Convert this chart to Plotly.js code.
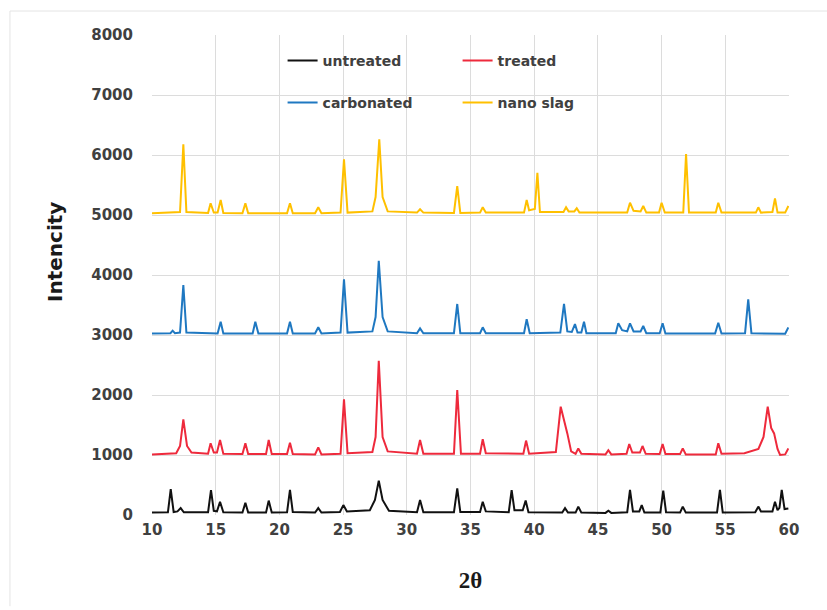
<!DOCTYPE html>
<html>
<head>
<meta charset="utf-8">
<script src="https://cdn.plot.ly/plotly-3.0.1.min.js"></script>
<style>html,body{margin:0;padding:0;background:#fff;}#chart{width:827px;height:610px;}</style>
</head>
<body>
<div id="chart"></div>
<script>
// Series names
const seriesNames = ["untreated", "treated", "carbonated", "nano slag"];
const seriesColors = ["#111111", "#EE2A3C", "#1F78C1", "#FFC000"];

// [2θ, intensity] points
const untreated = [[10,40],[11.25,45],[11.47,430],[11.7,50],[12.0,60],[12.25,115],[12.5,45],[14.4,45],[14.63,415],[14.85,70],[15.1,60],[15.34,220],[15.6,45],[17.1,40],[17.33,205],[17.55,40],[18.95,40],[19.16,240],[19.4,40],[20.6,45],[20.83,420],[21.05,50],[22.8,40],[23.05,115],[23.3,40],[24.75,50],[25.02,165],[25.3,60],[27.1,80],[27.5,250],[27.8,570],[28.1,250],[28.6,70],[30.8,45],[31.04,250],[31.3,45],[33.7,45],[33.96,445],[34.2,50],[35.75,50],[35.96,220],[36.2,60],[38.0,45],[38.23,415],[38.45,80],[39.1,80],[39.33,240],[39.55,45],[42.2,40],[42.42,115],[42.65,40],[43.25,40],[43.46,140],[43.7,40],[45.6,35],[45.82,70],[46.05,35],[47.3,45],[47.52,420],[47.75,60],[48.25,60],[48.44,165],[48.65,40],[49.9,40],[50.13,405],[50.35,45],[51.45,40],[51.66,140],[51.9,40],[54.35,40],[54.58,420],[54.8,40],[57.35,45],[57.59,140],[57.8,60],[58.7,60],[58.9,220],[59.1,80],[59.25,120],[59.43,420],[59.65,100],[59.95,110]];

const treated = [[10,1010],[11.9,1030],[12.2,1150],[12.46,1595],[12.75,1150],[13.1,1040],[14.4,1020],[14.6,1195],[14.85,1040],[15.1,1040],[15.34,1250],[15.6,1020],[17.1,1015],[17.33,1195],[17.55,1015],[18.95,1015],[19.16,1250],[19.4,1015],[20.6,1015],[20.83,1205],[21.05,1015],[22.8,1010],[23.05,1128],[23.3,1010],[24.8,1020],[25.07,1928],[25.35,1030],[27.3,1050],[27.55,1300],[27.8,2572],[28.1,1300],[28.5,1060],[30.8,1020],[31.04,1250],[31.3,1020],[33.7,1020],[33.96,2083],[34.25,1020],[35.75,1020],[35.96,1262],[36.2,1030],[39.15,1020],[39.36,1240],[39.6,1020],[41.7,1050],[42.08,1805],[42.6,1360],[42.9,1060],[43.25,1020],[43.46,1110],[43.7,1020],[45.6,1010],[45.82,1080],[46.05,1010],[47.25,1020],[47.46,1183],[47.7,1040],[48.3,1040],[48.5,1150],[48.75,1020],[49.85,1015],[50.08,1183],[50.3,1015],[51.45,1015],[51.66,1110],[51.9,1010],[54.25,1010],[54.45,1195],[54.7,1020],[56.5,1030],[57.6,1100],[58.0,1300],[58.33,1805],[58.6,1450],[58.83,1360],[59.1,1100],[59.3,1000],[59.7,1010],[59.95,1110]];

const carbonated = [[10,3025],[11.45,3030],[11.62,3072],[11.8,3030],[12.2,3040],[12.46,3833],[12.7,3040],[15.15,3025],[15.39,3222],[15.6,3025],[17.9,3025],[18.11,3222],[18.35,3025],[20.6,3025],[20.83,3222],[21.05,3025],[22.8,3025],[23.05,3128],[23.3,3025],[24.8,3040],[25.07,3928],[25.35,3040],[27.3,3060],[27.55,3300],[27.8,4238],[28.1,3300],[28.5,3060],[30.8,3030],[31.04,3110],[31.3,3030],[33.7,3030],[33.96,3517],[34.2,3030],[35.75,3030],[35.96,3128],[36.2,3030],[39.2,3030],[39.41,3262],[39.65,3030],[42.05,3040],[42.34,3517],[42.6,3060],[42.95,3050],[43.2,3183],[43.4,3040],[43.7,3040],[43.91,3222],[44.1,3030],[46.4,3030],[46.6,3195],[46.9,3080],[47.3,3060],[47.52,3195],[47.8,3060],[48.35,3060],[48.56,3150],[48.8,3030],[49.85,3030],[50.08,3195],[50.3,3025],[54.2,3025],[54.45,3205],[54.7,3025],[56.55,3030],[56.8,3595],[57.05,3030],[59.7,3020],[59.95,3128]];

const nanoSlag = [[10,5030],[12.2,5050],[12.46,6180],[12.7,5050],[14.4,5035],[14.6,5195],[14.85,5040],[15.15,5040],[15.39,5250],[15.6,5035],[17.1,5030],[17.33,5195],[17.55,5030],[20.6,5030],[20.83,5195],[21.05,5030],[22.8,5030],[23.05,5128],[23.3,5030],[24.8,5040],[25.07,5928],[25.35,5040],[27.3,5060],[27.55,5300],[27.84,6262],[28.1,5300],[28.5,5060],[30.8,5040],[31.04,5095],[31.3,5040],[33.7,5035],[33.96,5483],[34.2,5035],[35.75,5040],[35.96,5128],[36.2,5040],[39.2,5040],[39.41,5250],[39.6,5080],[40.05,5100],[40.25,5705],[40.45,5050],[42.3,5050],[42.5,5128],[42.7,5060],[43.15,5060],[43.34,5112],[43.55,5040],[47.3,5040],[47.52,5205],[47.8,5070],[48.35,5060],[48.56,5150],[48.8,5040],[49.8,5040],[50.0,5205],[50.25,5040],[51.7,5040],[51.92,6017],[52.15,5040],[54.25,5040],[54.45,5205],[54.7,5040],[57.4,5040],[57.59,5128],[57.8,5040],[58.7,5050],[58.9,5278],[59.1,5040],[59.7,5040],[59.95,5150]];

const allSeries = [untreated, treated, carbonated, nanoSlag];
const legendIds = ["legend", "legend", "legend2", "legend2"];

const traces = allSeries.map((pts, i) => ({
  type: "scatter",
  mode: "lines",
  name: seriesNames[i],
  x: pts.map(p => p[0]),
  y: pts.map(p => p[1]),
  line: {color: seriesColors[i], width: 2},
  legend: legendIds[i],
  hoverinfo: "x+y+name"
}));

const tickFont = {family: "DejaVu Sans", size: 15, color: "#404040", weight: "bold"};
const legendFont = {family: "DejaVu Sans", size: 14, color: "#404040", weight: "bold"};

const layout = {
  width: 827,
  height: 610,
  margin: {l: 152, r: 38, t: 35, b: 95},
  paper_bgcolor: "#ffffff",
  plot_bgcolor: "#ffffff",
  showlegend: true,
  xaxis: {
    range: [10, 60],
    tick0: 10,
    dtick: 5,
    showgrid: true,
    gridcolor: "#dcdcdc",
    gridwidth: 1,
    zeroline: false,
    showline: false,
    ticks: "",
    tickfont: tickFont,
    ticklabelstandoff: 4,
    title: {text: "2θ", font: {family: "Liberation Serif", size: 23, color: "#1a1a1a", weight: "bold"}, standoff: 33}
  },
  yaxis: {
    range: [0, 8000],
    tick0: 0,
    dtick: 1000,
    showgrid: true,
    gridcolor: "#dcdcdc",
    gridwidth: 1,
    zeroline: false,
    showline: false,
    ticks: "",
    tickfont: tickFont,
    ticklabelstandoff: 18
  },
  annotations: [
    {text: "Intencity", xref: "paper", yref: "paper", x: (55 - 152) / 637, y: (515 - 252) / 480,
     xanchor: "center", yanchor: "middle", textangle: -90, showarrow: false,
     font: {family: "DejaVu Sans", size: 20, color: "#1a1a1a", weight: "bold"}}
  ],
  legend: {
    orientation: "h",
    x: 0.205, xanchor: "left",
    y: 0.9458, yanchor: "middle",
    entrywidth: 130, entrywidthmode: "pixels",
    font: legendFont,
    bgcolor: "rgba(0,0,0,0)",
    itemclick: false
  },
  legend2: {
    orientation: "h",
    x: 0.205, xanchor: "left",
    y: 0.8583, yanchor: "middle",
    entrywidth: 130, entrywidthmode: "pixels",
    font: legendFont,
    bgcolor: "rgba(0,0,0,0)",
    itemclick: false
  },
  shapes: [
    {type: "line", xref: "paper", yref: "paper", x0: -0.223, x1: 1.07, y0: 1.05, y1: 1.05, line: {color: "#e4e4e4", width: 1}},
    {type: "line", xref: "paper", yref: "paper", x0: -0.223, x1: -0.223, y0: 1.05, y1: -0.19, line: {color: "#e4e4e4", width: 1}}
  ]
};

Plotly.newPlot("chart", traces, layout, {displayModeBar: false, staticPlot: true});
</script>
</body>
</html>
